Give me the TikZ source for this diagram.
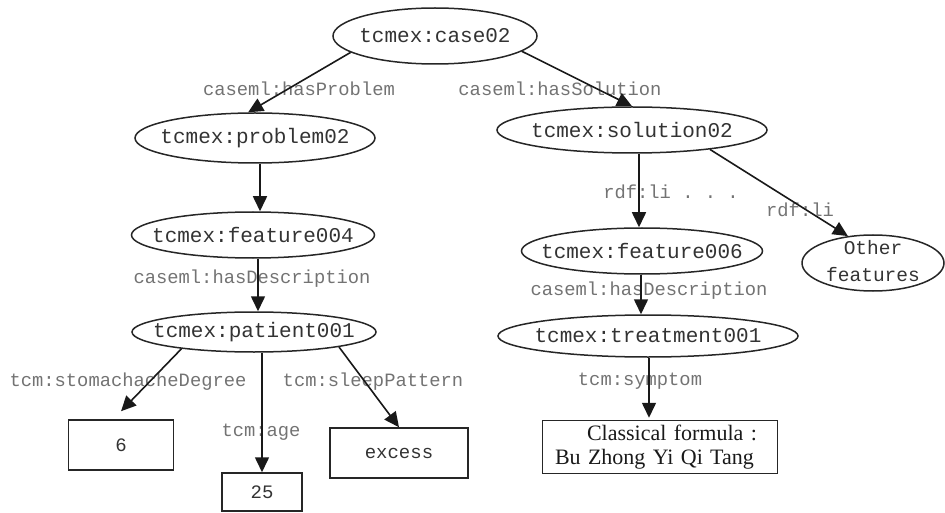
\documentclass[tikz,border=0pt]{standalone}
\usepackage{fontspec}
\setmainfont{Liberation Serif}
\setmonofont{Liberation Mono}
\usetikzlibrary{shapes.geometric,arrows.meta}
% text whose width does not enlarge the surrounding ellipse
\newcommand{\nowidth}[1]{\makebox[0pt][c]{#1}}
\begin{document}
\begin{tikzpicture}[x=1pt,y=-1pt,
  ell/.style={ellipse,draw=black!85,line width=1.5pt,inner sep=0pt,
    text=black!80,font=\ttfamily\fontsize{21}{21}\selectfont},
  valbox/.style={rectangle,draw=black!85,line width=1.5pt,inner sep=0pt,
    text=black!80,font=\ttfamily\fontsize{19}{19}\selectfont},
  lbl/.style={inner sep=0pt,text=black!55,font=\ttfamily\fontsize{18.8}{18.8}\selectfont},
  link/.style={draw=black!90,line width=1.6pt,-{Triangle[length=15pt,width=14pt]}}]
\useasboundingbox (0,0) rectangle (945,513);

% resource nodes
\node[ell,minimum width=204,minimum height=56] (case) at (435,36) {\nowidth{tcmex:case02}};
\node[ell,minimum width=240,minimum height=50] (problem) at (255,138) {\nowidth{tcmex:problem02}};
\node[ell,minimum width=243,minimum height=46] (feature4) at (253,235) {\nowidth{tcmex:feature004}};
\node[ell,minimum width=244,minimum height=40] (patient) at (254,332) {\nowidth{tcmex:patient001}};
\node[ell,minimum width=270,minimum height=46] (solution) at (632,130) {\nowidth{tcmex:solution02}};
\node[ell,minimum width=241,minimum height=46] (feature6) at (642,251) {\nowidth{tcmex:feature006}};
\node[ell,minimum width=300,minimum height=42] (treatment) at (648,336) {\nowidth{tcmex:treatment001}};
\node[ell,minimum width=142,minimum height=56,font=\ttfamily\fontsize{19.5}{27}\selectfont] (other) at (873,263)
  {\nowidth{\raisebox{-4.5pt}[0pt][0pt]{\begin{tabular}{@{}c@{}}Other\\features\end{tabular}}}};

% literal values
\node[valbox,minimum width=105,minimum height=50] (six) at (121,445) {6};
\node[valbox,minimum width=80,minimum height=38] (twentyfive) at (262,492) {25};
\node[valbox,minimum width=138,minimum height=50] (excess) at (399,453) {excess};
\node[valbox,minimum width=235,minimum height=53,text width=210,align=left,text=black!90,
  font=\rmfamily\fontsize{22}{24}\selectfont] (formula) at (660,447)
  {\hspace*{32pt}Classical formula :\\Bu Zhong Yi Qi Tang};

% property labels
\node[lbl] (lhasproblem) at (299,89) {caseml:hasProblem};
\node[lbl] (lhassolution) at (560,89) {caseml:hasSolution};
\node[lbl] (lli) at (671,192) {rdf:li . . .};
\node[lbl] (lliother) at (800,210) {rdf:li};
\node[lbl] (ldescl) at (252,279) {caseml:hasDescription};
\node[lbl] (ldescr) at (649,291) {caseml:hasDescription};
\node[lbl] (lstomach) at (128,382) {tcm:stomachacheDegree};
\node[lbl] (lage) at (261,432) {tcm:age};
\node[lbl] (lsleep) at (373,382) {tcm:sleepPattern};
\node[lbl] (lsymptom) at (640,381) {tcm:symptom};

% edges
\draw[link] (case.191) -- (problem.105);
\draw[link] (case.350) -- (solution.north);
\draw[link] ([xshift=5pt]problem.south) -- ([xshift=7pt]feature4.north);
\draw[link] ([xshift=5pt]feature4.south) -- ([xshift=4pt]patient.north);
\draw[link] (patient.193) -- ([yshift=8pt]six.north);
\draw[link] ([xshift=8pt]patient.south) -- (twentyfive.north);
\draw[link] (patient.350) -- (excess.north);
\draw[link] ([xshift=7pt]solution.south) -- ([xshift=-3pt]feature6.north);
\draw[link] (solution.346) -- (other.133);
\draw[link] ([xshift=-1pt]feature6.south) -- ([xshift=-7pt]treatment.north);
\draw[link] ([xshift=1pt]treatment.south) -- ([xshift=-11pt,yshift=2pt]formula.north);
\end{tikzpicture}
\end{document}
